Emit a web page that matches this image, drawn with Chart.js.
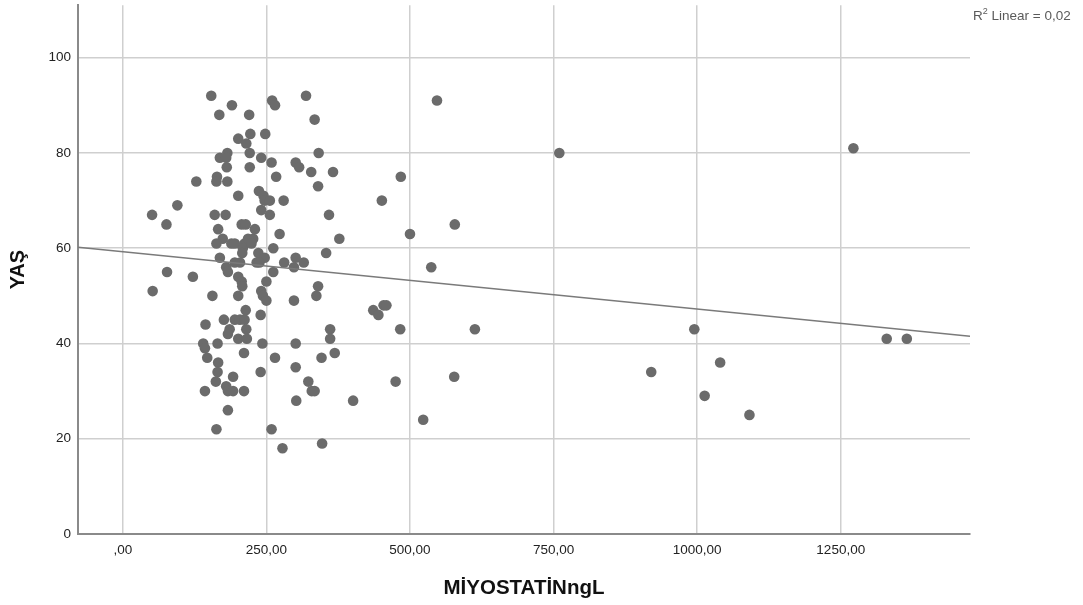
<!DOCTYPE html>
<html>
<head>
<meta charset="utf-8">
<script src="https://cdn.jsdelivr.net/npm/chart.js@4.4.0/dist/chart.umd.min.js"></script>
<style>
body{margin:0;background:#fff}
.wrap{position:relative;width:1083px;height:605px}
.r2{position:absolute;left:973px;top:8px;font:13.5px "Liberation Sans",Arial,sans-serif;color:#5a5a5a;white-space:nowrap}
.r2 sup{font-size:9px;vertical-align:6px;line-height:0}
</style>
</head>
<body>
<div class="wrap">
<canvas id="myChart"></canvas>
<div class="r2">R<sup>2</sup> Linear = 0,02</div>
</div>
<script>
// MİYOSTATİN ngL values and ages
const miyostatin = [
  154,190,168,220,222,201,215,182,221,169,180,181,221,241,128,164,163,182,201,237,
  95,51,160,179,76,207,214,241,260,265,319,334,248,341,259,301,307,328,366,267,
  340,245,247,256,280,451,256,359,166,174,163,189,195,212,218,227,209,208,169,195,
  204,233,180,183,77,122,201,207,208,52,156,201,214,176,195,204,212,144,186,183,
  215,201,216,230,273,377,224,262,236,247,238,354,281,301,315,298,262,250,340,337,
  241,244,250,298,436,445,454,459,240,361,361,483,613,500,578,537,475,577,523,401,
  484,547,760,1272,1330,1365,995,1040,920,1013,1091,140,143,147,165,211,166,165,192,162,
  180,183,192,143,211,183,163,240,243,301,265,346,369,301,323,329,334,302,259,278,347
]
const yas = [
  92,90,88,88,84,83,82,80,80,79,79,77,77,79,74,75,74,74,71,72,
  69,67,67,67,65,65,65,68,91,90,92,87,84,80,78,78,77,76,76,75,
  73,71,70,70,70,70,67,67,64,62,61,61,61,61,62,62,60,59,58,57,
  57,57,56,55,55,54,54,53,52,51,50,50,47,45,45,45,45,44,43,42,
  43,41,41,64,63,62,61,60,59,58,57,59,57,58,57,56,55,53,52,50,
  51,50,49,49,47,46,48,48,46,43,41,43,43,63,65,56,32,33,24,28,
  75,91,80,81,41,41,43,36,34,29,25,40,39,37,40,38,36,34,33,32,
  31,30,30,30,30,26,22,34,40,40,37,37,38,35,32,30,30,28,22,18,19
]

// linear fit line end points (R2 = 0,02)
const fitX = [-78, 1475]
const fitY = [60.2, 41.5]

const xTicks = [0, 250, 500, 750, 1000, 1250]
const xTickLabels = [",00", "250,00", "500,00", "750,00", "1000,00", "1250,00"]
const yTicks = [0, 20, 40, 60, 80, 100]

const points = miyostatin.map((v, i) => ({x: v, y: yas[i]}))
const fitLine = fitX.map((v, i) => ({x: v, y: fitY[i]}))

Chart.defaults.font.family = "'Liberation Sans', Arial, sans-serif"
Chart.defaults.color = "#222"

const gridColor = "#cfcfcf"
const axisColor = "#8a8a8a"

const ctx = document.getElementById("myChart").getContext("2d")
new Chart(ctx, {
  type: "scatter",
  data: {
    datasets: [
      {
        data: points,
        backgroundColor: "#6b6b6b",
        borderWidth: 0,
        pointRadius: 5.3,
        pointHoverRadius: 5.3,
        order: 1
      },
      {
        type: "line",
        data: fitLine,
        borderColor: "#7a7a7a",
        borderWidth: 1.5,
        pointRadius: 0,
        fill: false,
        order: 0
      }
    ]
  },
  options: {
    responsive: true,
    maintainAspectRatio: false,
    animation: false,
    layout: {padding: {top: 4, right: 113, left: 0, bottom: 0}},
    plugins: {legend: {display: false}, tooltip: {enabled: false}},
    scales: {
      x: {
        type: "linear",
        min: -78,
        max: 1475,
        afterBuildTicks: s => { s.ticks = xTicks.map(v => ({value: v})) },
        afterFit: s => { s.height = 71; s.paddingLeft = 0; s.paddingRight = 0 },
        ticks: {
          callback: (v, i) => xTickLabels[i],
          font: {size: 13.5},
          padding: 8,
          maxRotation: 0,
          autoSkip: false
        },
        grid: {color: gridColor, lineWidth: 1.5, drawTicks: false},
        border: {color: axisColor, width: 2},
        title: {
          display: true,
          text: "MİYOSTATİNngL",
          color: "#111",
          font: {size: 20.5, weight: "bold"},
          padding: {top: 0, bottom: 4}
        }
      },
      y: {
        type: "linear",
        min: 0,
        max: 111,
        afterBuildTicks: s => { s.ticks = yTicks.map(v => ({value: v})) },
        afterFit: s => { s.width = 78; s.paddingTop = 0; s.paddingBottom = 0 },
        ticks: {font: {size: 13.5}, padding: 7},
        grid: {color: gridColor, lineWidth: 1.5, drawTicks: false},
        border: {color: axisColor, width: 2},
        title: {
          display: true,
          text: "YAŞ",
          color: "#111",
          font: {size: 20, weight: "bold"},
          padding: {top: 6, bottom: 0}
        }
      }
    }
  }
})
</script>
</body>
</html>
